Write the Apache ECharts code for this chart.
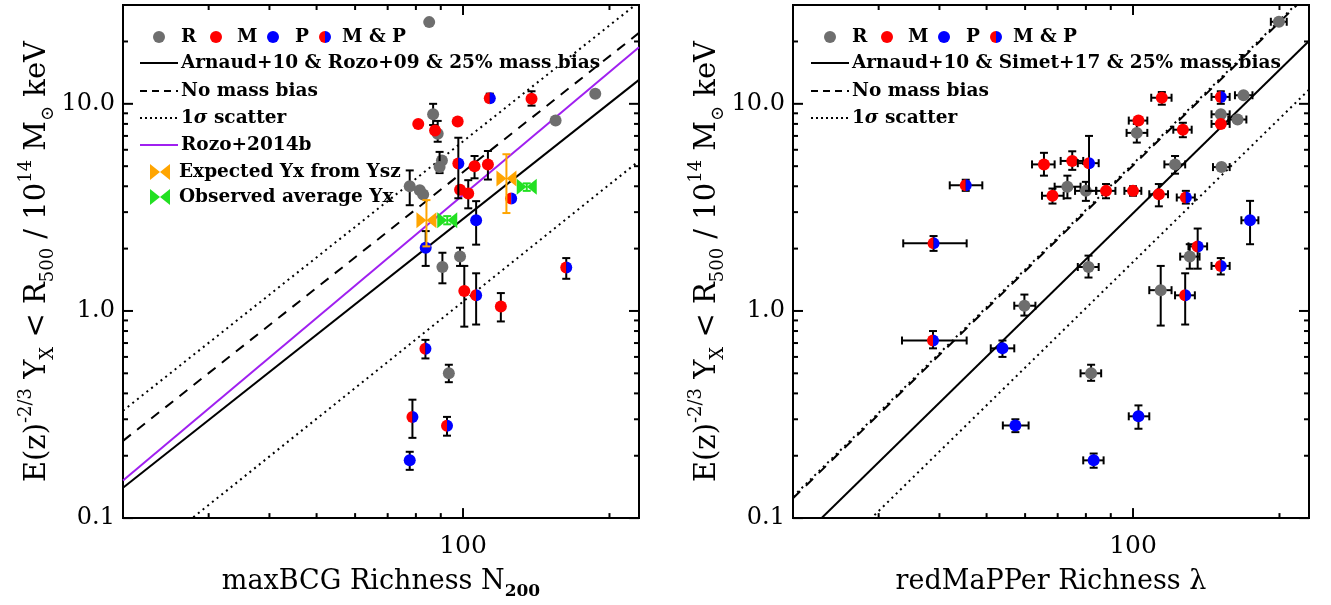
<!DOCTYPE html>
<html><head><meta charset="utf-8">
<script src="https://cdn.jsdelivr.net/npm/echarts@6/dist/echarts.min.js"></script>
<style>html,body{margin:0;padding:0;background:#fff}#c{width:1331px;height:605px}</style>
</head><body><div id="c"></div><script>
// ---------------- DATA ----------------
const xRange = [20, 230];
const yRange = [0.1, 30];
const xMajorTicks = [100];
const xMinorTicks = [20, 30, 40, 50, 60, 70, 80, 90, 200];
const yMajorTicks = [0.1, 1, 10];
const yMinorTicks = [0.2, 0.3, 0.4, 0.5, 0.6, 0.7, 0.8, 0.9, 2, 3, 4, 5, 6, 7, 8, 9, 20, 30];
const xLabelValues = [100];
const yLabelValues = [0.1, 1, 10];

// Left panel: maxBCG N200 -> [N200, Yx, YxLow, YxHigh]
const leftR = [[85.2, 24.8, null, null], [187, 11.2, null, null], [155, 8.3, null, null],
  [86.8, 8.9, 7.9, 10.0], [88.7, 7.17, 6.56, 8.27], [90.5, 5.32, null, null], [89.5, 4.96, 4.63, 5.86],
  [77.7, 4.0, 3.24, 4.77], [81.5, 3.83, null, null], [82.8, 3.65, null, null], [90.7, 1.63, 1.36, 1.91],
  [98.6, 1.83, 1.65, 2.02], [93.5, 0.50, 0.453, 0.55]];
const leftM = [[138.3, 10.57, 9.8, 11.5], [80.9, 7.99, null, null], [87.6, 7.44, null, null],
  [97.5, 8.22, null, null], [105.6, 5.0, 4.37, 5.6], [112.5, 5.09, 4.31, 5.92], [98.6, 3.85, null, null],
  [102.5, 3.69, 3.13, 4.28], [100.6, 1.25, 0.84, 1.65], [119.6, 1.05, 0.89, 1.22]];
const leftP = [[106.4, 2.74, 2.09, 3.39], [83.8, 2.02, 1.65, 2.43], [77.7, 0.19, 0.171, 0.209]];
const leftMP = [[113.5, 10.65, 10.2, 11.2], [97.8, 5.15, 3.5, 6.86], [125.6, 3.49, null, null],
  [163, 1.62, 1.43, 1.8], [106.4, 1.19, 0.86, 1.52], [83.7, 0.657, 0.59, 0.725],
  [78.7, 0.308, 0.244, 0.373], [92.7, 0.279, 0.25, 0.308]];
const leftExpected = [[84.1, 2.74, 2.05, 3.43], [122.8, 4.36, 2.97, 5.71]];
const leftObserved = [[92.8, 2.74, 2.62, 2.87], [135.2, 3.98, 3.8, 4.13]];
// model lines (endpoints)
const leftArnaud = [[20, 0.14], [230, 13.05]];
const leftNoBias = [[20, 0.236], [230, 22.0]];
const leftScatterHi = [[20, 0.33], [230, 31.0]];
const leftScatterLo = [[20, 0.054], [230, 5.3]];
const leftRozo14 = [[20, 0.152], [230, 18.75]];

// Right panel: redMaPPer lambda -> [lambda, Yx, lamLow, lamHigh, YxLow, YxHigh]
const rightR = [[199.5, 24.9, 192, 207, null, null], [168.7, 11.0, 162, 176, null, null],
  [164, 8.4, 157, 171, null, null], [151.5, 8.9, 145, 158, null, null], [101.8, 7.24, 97, 107, 6.5, 8.0],
  [122, 5.1, 116, 128, 4.6, 5.6], [152, 4.95, 146, 158, null, null], [73.3, 3.98, 69, 78, 3.5, 4.5],
  [80, 3.8, 76, 84, 3.4, 4.2], [130.8, 1.83, 125, 137, 1.6, 2.1], [81, 1.63, 77, 85, 1.45, 1.85],
  [114, 1.26, 108, 120, 0.85, 1.65], [59.8, 1.06, 57, 63, 0.95, 1.2], [82, 0.50, 78, 86, 0.46, 0.55]];
const rightM = [[114.6, 10.7, 109, 120, 9.9, 11.4], [151.5, 8.0, 145, 158, null, null],
  [102.6, 8.3, 98, 107, null, null], [126.6, 7.5, 121, 132, 6.9, 8.1], [65.6, 5.1, 62, 69, 4.5, 5.8],
  [75, 5.3, 71, 79, 4.8, 5.9], [68.3, 3.6, 65, 72, 3.3, 3.9], [88, 3.8, 84, 92, 3.5, 4.1],
  [100, 3.8, 96, 104, 3.6, 4.0], [113, 3.66, 108, 118, 3.2, 4.1]];
const rightP = [[174, 2.74, 167, 181, 2.1, 3.4], [53.9, 0.66, 51, 57, 0.6, 0.72],
  [57.3, 0.28, 54, 61, 0.26, 0.3], [102.6, 0.31, 98, 108, 0.27, 0.35], [83, 0.19, 79, 87, 0.175, 0.205]];
const rightMP = [[151.5, 10.8, 145, 158, 10.0, 11.5], [81.2, 5.17, 77, 85, 3.8, 7.0],
  [45.3, 4.04, 42, 49, 3.8, 4.3], [128.4, 3.53, 123, 134, 3.3, 3.8], [38.9, 2.12, 33.7, 45.5, 1.95, 2.3],
  [135.8, 2.05, 130, 142, 1.6, 2.5], [151.5, 1.65, 145, 158, 1.5, 1.8], [128, 1.19, 122, 134, 0.86, 1.52],
  [38.8, 0.72, 33.5, 45.5, 0.66, 0.8]];
const rightArnaud = [[20, 0.0733], [230, 20.1]];
const rightNoBias = [[20, 0.1246], [230, 34.2]];
const rightScatterHi = [[20, 0.127], [230, 34.8]];
const rightScatterLo = [[20, 0.0426], [230, 11.7]];

// ---------------- STYLE ----------------
const FONT = '"DejaVu Serif", serif';
const GRAY = '#6e6e6e', RED = '#ff0000', BLUE = '#0000ff', PURPLE = '#a020f0', ORANGE = '#ffa500', GREEN = '#22e022';
const R = 6;

function markerShapes(kind, cx, cy) {
  if (kind === 'MP') {
    return [
      {type: 'sector', shape: {cx, cy, r0: 0, r: R, startAngle: Math.PI / 2, endAngle: 3 * Math.PI / 2}, style: {fill: RED}},
      {type: 'sector', shape: {cx, cy, r0: 0, r: R, startAngle: -Math.PI / 2, endAngle: Math.PI / 2}, style: {fill: BLUE}}
    ];
  }
  if (kind === 'EXP' || kind === 'OBS') {
    const col = kind === 'EXP' ? ORANGE : GREEN;
    const w = 10, h = 8;
    return [
      {type: 'polygon', shape: {points: [[cx - w, cy - h], [cx - w, cy + h], [cx, cy]]}, style: {fill: col}},
      {type: 'polygon', shape: {points: [[cx + w, cy - h], [cx + w, cy + h], [cx, cy]]}, style: {fill: col}}
    ];
  }
  const col = kind === 'R' ? GRAY : kind === 'M' ? RED : BLUE;
  return [{type: 'circle', shape: {cx, cy, r: R}, style: {fill: col}}];
}

function pointSeries(gi, data, kind, hasX) {
  return {
    type: 'custom', xAxisIndex: gi, yAxisIndex: gi, z: 5, clip: false,
    data: data.map(d => [d[0], d[1]]),
    renderItem: function (params, api) {
      const d = data[params.dataIndex];
      const c = api.coord([d[0], d[1]]);
      const ch = [];
      const ecol = kind === 'EXP' ? ORANGE : kind === 'OBS' ? GREEN : '#000';
      const es = {stroke: ecol, lineWidth: 2};
      const cap = 4;
      let xlo = null, xhi = null, ylo, yhi;
      if (hasX) { xlo = d[2]; xhi = d[3]; ylo = d[4]; yhi = d[5]; } else { ylo = d[2]; yhi = d[3]; }
      if (xlo != null) {
        const a = api.coord([xlo, d[1]]), b = api.coord([xhi, d[1]]);
        ch.push({type: 'line', shape: {x1: a[0], y1: a[1], x2: b[0], y2: b[1]}, style: es});
        ch.push({type: 'line', shape: {x1: a[0], y1: a[1] - cap, x2: a[0], y2: a[1] + cap}, style: es});
        ch.push({type: 'line', shape: {x1: b[0], y1: b[1] - cap, x2: b[0], y2: b[1] + cap}, style: es});
      }
      if (ylo != null) {
        const a = api.coord([d[0], ylo]), b = api.coord([d[0], yhi]);
        ch.push({type: 'line', shape: {x1: a[0], y1: a[1], x2: b[0], y2: b[1]}, style: es});
        ch.push({type: 'line', shape: {x1: a[0] - cap, y1: a[1], x2: a[0] + cap, y2: a[1]}, style: es});
        ch.push({type: 'line', shape: {x1: b[0] - cap, y1: b[1], x2: b[0] + cap, y2: b[1]}, style: es});
      }
      markerShapes(kind, c[0], c[1]).forEach(s => ch.push(s));
      return {type: 'group', children: ch};
    }
  };
}

function lineSeries(gi, data, color, type) {
  return {type: 'line', xAxisIndex: gi, yAxisIndex: gi, data, showSymbol: false, symbol: 'none', z: 2,
    lineStyle: {color, width: 2, type}, silent: true, animation: false};
}

function tickSeries(gi) {
  const specs = [];
  xMajorTicks.forEach(v => specs.push(['x', v, 10]));
  xMinorTicks.forEach(v => specs.push(['x', v, 5]));
  yMajorTicks.forEach(v => specs.push(['y', v, 10]));
  yMinorTicks.forEach(v => specs.push(['y', v, 5]));
  return {
    type: 'custom', xAxisIndex: gi, yAxisIndex: gi, z: 10, clip: false, silent: true,
    data: specs.map(s => s[0] === 'x' ? [s[1], yRange[0]] : [xRange[0], s[1]]),
    renderItem: function (params, api) {
      const s = specs[params.dataIndex];
      const st = {stroke: '#000', lineWidth: 2};
      if (s[0] === 'x') {
        const b = api.coord([s[1], yRange[0]]), t = api.coord([s[1], yRange[1]]);
        return {type: 'group', children: [
          {type: 'line', shape: {x1: b[0], y1: b[1], x2: b[0], y2: b[1] - s[2]}, style: st},
          {type: 'line', shape: {x1: t[0], y1: t[1], x2: t[0], y2: t[1] + s[2]}, style: st}]};
      }
      const l = api.coord([xRange[0], s[1]]), r = api.coord([xRange[1], s[1]]);
      return {type: 'group', children: [
        {type: 'line', shape: {x1: l[0], y1: l[1], x2: l[0] + s[2], y2: l[1]}, style: st},
        {type: 'line', shape: {x1: r[0], y1: r[1], x2: r[0] - s[2], y2: r[1]}, style: st}]};
    }
  };
}

const isIn = (arr, v) => arr.some(a => Math.abs(Math.log10(a) - Math.log10(v)) < 1e-6);

function xAxis(gi, name) {
  return {type: 'log', logBase: 10, gridIndex: gi, min: xRange[0], max: xRange[1],
    axisLine: {show: false}, axisTick: {show: false}, splitLine: {show: false}, minorTick: {show: false},
    axisLabel: {showMinLabel: false, showMaxLabel: false, fontFamily: FONT, fontSize: 25, color: '#000', margin: 16,
      formatter: v => isIn(xLabelValues, v) ? String(Math.round(v)) : ''},
    name, nameLocation: 'middle', nameGap: 45,
    nameTextStyle: {fontFamily: FONT, fontSize: 27, color: '#000', lineHeight: 36,
      rich: {sub: {fontFamily: FONT, fontSize: 17, fontWeight: 'bold', verticalAlign: 'bottom', color: '#000'},
             b: {fontFamily: FONT, fontSize: 27, lineHeight: 36, color: '#000'}}}
  };
}
const yName = '{b|E(z)}{sup|-2/3}{b| Y}{sub|X}{b| < R}{sub|500}{b| / 10}{sup|14}{b| M}{sub|⊙}{b| keV}';
function yAxis(gi) {
  return {type: 'log', logBase: 10, gridIndex: gi, min: yRange[0], max: yRange[1],
    axisLine: {show: false}, axisTick: {show: false}, splitLine: {show: false},
    axisLabel: {showMinLabel: true, showMaxLabel: false, fontFamily: FONT, fontSize: 24, color: '#000', margin: 8,
      formatter: v => isIn(yLabelValues, v) ? v.toFixed(1) : ''},
    name: yName, nameLocation: 'middle', nameGap: 66, nameRotate: 90,
    nameTextStyle: {fontFamily: FONT, fontSize: 29, color: '#000',
      rich: {b: {fontFamily: FONT, fontSize: 29, lineHeight: 40, color: '#000'},
             sup: {fontFamily: FONT, fontSize: 18, verticalAlign: 'top', color: '#000'},
             sub: {fontFamily: FONT, fontSize: 18, verticalAlign: 'bottom', color: '#000'}}}
  };
}

// ---------------- LEGEND (graphic) ----------------
const LF = 'bold 18.5px "DejaVu Serif"';
function ltext(x, y, text, extra) {
  return Object.assign({type: 'text', x, y, z: 100, style: {text, font: LF, fill: '#000', verticalAlign: 'middle'}}, extra || {});
}
function dot(cx, cy, col) { return {type: 'circle', z: 100, shape: {cx, cy, r: R}, style: {fill: col}}; }
function half(cx, cy) {
  return {type: 'group', z: 100, children: [
    {type: 'sector', shape: {cx, cy, r0: 0, r: R, startAngle: Math.PI / 2, endAngle: 3 * Math.PI / 2}, style: {fill: RED}},
    {type: 'sector', shape: {cx, cy, r0: 0, r: R, startAngle: -Math.PI / 2, endAngle: Math.PI / 2}, style: {fill: BLUE}}]};
}
function lline(x1, x2, y, col, dash) {
  return {type: 'line', z: 100, shape: {x1, y1: y, x2, y2: y}, style: {stroke: col, lineWidth: 2, lineDash: dash || null}};
}
function bow(cx, cy, col) {
  return {type: 'group', z: 100, children: [
    {type: 'polygon', shape: {points: [[cx - 10, cy - 8], [cx - 10, cy + 8], [cx, cy]]}, style: {fill: col}},
    {type: 'polygon', shape: {points: [[cx + 10, cy - 8], [cx + 10, cy + 8], [cx, cy]]}, style: {fill: col}}]};
}
function sigmaText(x, y) {
  return {type: 'text', x, y, z: 100, style: {text: '1{i|σ} scatter', font: LF, fill: '#000', verticalAlign: 'middle',
    rich: {i: {fontFamily: 'DejaVu Serif', fontWeight: 'bold', fontStyle: 'italic', fontSize: 18.5}}}};
}
function legendBlock(ox, label2, extra) {
  const g = [
    dot(ox + 19, 37, GRAY), ltext(ox + 41, 37, 'R'),
    dot(ox + 76, 37, RED), ltext(ox + 97, 37, 'M'),
    dot(ox + 133, 37, BLUE), ltext(ox + 155, 37, 'P'),
    half(ox + 185, 37), ltext(ox + 202, 37, 'M & P'),
    lline(ox, ox + 38, 63, '#000'), ltext(ox + 41, 63, label2),
    lline(ox, ox + 38, 91, '#000', [7, 5]), ltext(ox + 41, 91, 'No mass bias'),
    lline(ox, ox + 38, 118, '#000', [2, 3]), sigmaText(ox + 41, 118)
  ];
  return g.concat(extra || []);
}
const graphics = legendBlock(140, 'Arnaud+10 & Rozo+09 & 25% mass bias', [
  lline(140, 178, 145, PURPLE), ltext(181, 145, 'Rozo+2014b'),
  bow(160, 172, ORANGE), ltext(179, 172, 'Expected Yx from Ysz'),
  bow(160, 197, GREEN), ltext(179, 197, 'Observed average Yx')
]).concat(legendBlock(811, 'Arnaud+10 & Simet+17 & 25% mass bias'));

const option = {
  animation: false,
  backgroundColor: '#fff',
  grid: [
    {left: 123, top: 5, width: 516, height: 515, show: true, borderColor: '#000', borderWidth: 2, backgroundColor: 'transparent'},
    {left: 793, top: 5, width: 516, height: 515, show: true, borderColor: '#000', borderWidth: 2, backgroundColor: 'transparent'}
  ],
  xAxis: [xAxis(0, 'maxBCG Richness N{sub|200}'), xAxis(1, 'redMaPPer Richness λ')],
  yAxis: [yAxis(0), yAxis(1)],
  series: [
    lineSeries(0, leftScatterHi, '#000', [2, 4]), lineSeries(0, leftScatterLo, '#000', [2, 4]),
    lineSeries(0, leftNoBias, '#000', [10, 8]), lineSeries(0, leftArnaud, '#000', 'solid'),
    lineSeries(0, leftRozo14, PURPLE, 'solid'),
    lineSeries(1, rightScatterHi, '#000', [2, 4]), lineSeries(1, rightScatterLo, '#000', [2, 4]),
    lineSeries(1, rightNoBias, '#000', [10, 8]), lineSeries(1, rightArnaud, '#000', 'solid'),
    pointSeries(0, leftR, 'R', false), pointSeries(0, leftM, 'M', false), pointSeries(0, leftP, 'P', false),
    pointSeries(0, leftMP, 'MP', false), pointSeries(0, leftExpected, 'EXP', false), pointSeries(0, leftObserved, 'OBS', false),
    pointSeries(1, rightR, 'R', true), pointSeries(1, rightM, 'M', true), pointSeries(1, rightP, 'P', true),
    pointSeries(1, rightMP, 'MP', true),
    tickSeries(0), tickSeries(1)
  ],
  graphic: graphics
};
const chart = echarts.init(document.getElementById('c'));
chart.setOption(option);
</script></body></html>
